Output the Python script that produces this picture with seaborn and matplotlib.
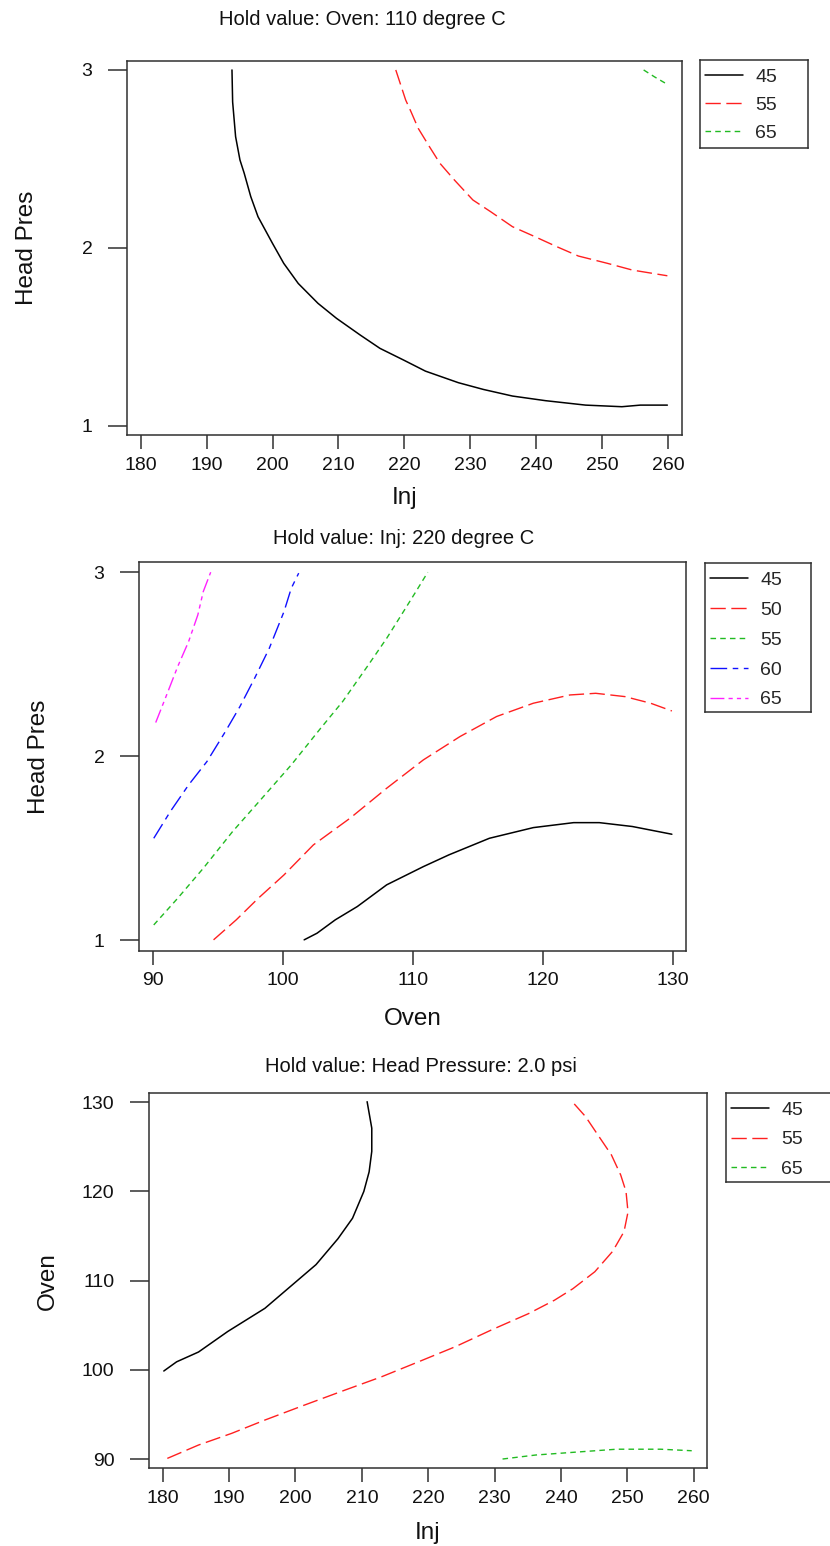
import matplotlib
matplotlib.use("Agg")
import matplotlib.pyplot as plt
import seaborn as sns
import pandas as pd

# ---------------- data ----------------
# Panel 1: hold Oven = 110 degree C  (x = Inj, y = Head Pres)
p1_title = "Hold value: Oven: 110 degree C"
p1_levels = ["45", "55", "65"]
p1_45_inj = [193.85, 193.95, 194.4, 195.06, 195.7, 196.7, 197.8, 200.0, 201.7, 203.9, 206.9, 209.7,
             213.3, 216.3, 219.9, 223.2, 228.2, 232.0, 236.4, 241.4, 247.5, 253.0, 255.8, 259.9]
p1_45_head = [3.0, 2.82, 2.625, 2.494, 2.42, 2.288, 2.175, 2.025, 1.913, 1.80, 1.688, 1.604,
              1.51, 1.435, 1.369, 1.307, 1.242, 1.204, 1.167, 1.141, 1.116, 1.107, 1.116, 1.116]
p1_55_inj = [218.7, 220.2, 221.0, 222.1, 223.8, 225.4, 227.6, 230.4, 233.1, 236.4, 239.8, 243.1,
             246.4, 250.8, 254.6, 259.9]
p1_55_head = [3.0, 2.831, 2.766, 2.672, 2.569, 2.475, 2.381, 2.269, 2.203, 2.119, 2.063, 2.007,
              1.954, 1.913, 1.875, 1.843]
p1_65_inj = [256.3, 258.0, 259.9]
p1_65_head = [3.0, 2.96, 2.919]
p1_xticks = [180, 190, 200, 210, 220, 230, 240, 250, 260]
p1_yticks = [1, 2, 3]

# Panel 2: hold Inj = 220 degree C  (x = Oven, y = Head Pres)
p2_title = "Hold value: Inj: 220 degree C"
p2_levels = ["45", "50", "55", "60", "65"]
p2_45_oven = [101.65, 102.64, 104.05, 105.74, 108.0, 110.82, 112.79, 115.9, 119.28, 122.38, 124.36, 126.9, 129.94]
p2_45_head = [1.002, 1.038, 1.111, 1.183, 1.301, 1.400, 1.464, 1.554, 1.612, 1.639, 1.639, 1.618, 1.576]
p2_50_oven = [94.68, 96.43, 98.12, 100.10, 102.36, 105.18, 108.0, 110.82, 113.64, 116.46, 119.28, 122.10,
              124.08, 126.33, 128.31, 129.94]
p2_50_head = [1.002, 1.111, 1.228, 1.355, 1.518, 1.663, 1.826, 1.980, 2.107, 2.216, 2.288, 2.333,
              2.342, 2.324, 2.288, 2.246]
p2_55_oven = [90.08, 91.92, 93.89, 96.15, 98.41, 100.66, 102.92, 104.61, 106.59, 108.0, 109.13, 110.25, 111.16]
p2_55_head = [1.083, 1.228, 1.391, 1.591, 1.772, 1.953, 2.152, 2.297, 2.496, 2.641, 2.768, 2.895, 3.0]
p2_60_oven = [90.08, 91.35, 92.76, 94.17, 95.59, 96.71, 97.84, 98.97, 100.10, 100.66, 101.23]
p2_60_head = [1.554, 1.699, 1.844, 1.971, 2.134, 2.270, 2.424, 2.587, 2.786, 2.913, 2.995]
p2_65_oven = [90.23, 91.07, 91.92, 92.76, 93.47, 93.89, 94.46]
p2_65_head = [2.183, 2.333, 2.487, 2.623, 2.768, 2.895, 3.0]
p2_xticks = [90, 100, 110, 120, 130]
p2_yticks = [1, 2, 3]

# Panel 3: hold Head Pressure = 2.0 psi  (x = Inj, y = Oven)
p3_title = "Hold value: Head Pressure: 2.0 psi"
p3_levels = ["45", "55", "65"]
p3_45_inj = [180.17, 182.1, 185.4, 189.8, 195.4, 199.8, 203.1, 206.4, 208.6, 210.3, 211.1, 211.5, 211.5, 210.8]
p3_45_oven = [99.87, 100.9, 102.0, 104.3, 106.9, 109.7, 111.8, 114.7, 117.0, 120.0, 122.2, 124.5, 127.1, 130.07]
p3_55_inj = [180.7, 185.4, 190.4, 195.4, 201.4, 207.5, 213.0, 218.6, 224.1, 229.6, 235.1, 239.0, 241.8,
             245.1, 247.8, 249.5, 250.1, 249.8, 249.0, 247.6, 245.6, 243.7, 241.7]
p3_55_oven = [90.07, 91.57, 92.88, 94.37, 96.06, 97.74, 99.23, 100.92, 102.6, 104.5, 106.3, 107.8, 109.1,
              111.0, 113.3, 115.5, 117.7, 120.0, 121.85, 124.1, 126.3, 128.4, 130.07]
p3_65_inj = [231.2, 236.2, 241.8, 248.4, 255.0, 259.7]
p3_65_oven = [90.0, 90.45, 90.75, 91.1, 91.1, 90.93]
p3_xticks = [180, 190, 200, 210, 220, 230, 240, 250, 260]
p3_yticks = [90, 100, 110, 120, 130]

# ---------------- styles ----------------
STYLE = {
    "45": dict(color="black", linestyle="-", lw=1.1),
    "50": dict(color="#FF2020", linestyle=(0, (11, 4)), lw=1.0),
    "55": dict(color="#FF2020", linestyle=(0, (11, 4)), lw=1.0),
    "60": dict(color="#1010FF", linestyle=(0, (12, 4, 4, 4)), lw=1.0),
    "65": dict(color="#FF20FF", linestyle=(0, (10, 3, 3, 3, 3, 3)), lw=1.0),
}
GREEN_SHORT = dict(color="#22BB22", linestyle=(0, (4, 3)), lw=1.0)

sns.set_theme(style="white")
plt.rcParams["font.family"] = ["Liberation Sans", "DejaVu Sans"]

W, H = 830, 1546
fig = plt.figure(figsize=(W / 100, H / 100), dpi=100)


def box(l, t, r, b):
    return [l / W, 1 - b / H, (r - l) / W, (b - t) / H]


SPINE = "#303030"


def make_panel(axbox, xlim, ylim, xticks, yticks, curves, xlabel, ylabel, title,
               title_px, xlab_base_px, ylab_x_px, legbox, legspacing):
    l, t, r, b = axbox
    ax = fig.add_axes(box(l, t, r, b))
    for lab, xs, ys, st in curves:
        df = pd.DataFrame({"x": xs, "y": ys})
        sns.lineplot(data=df, x="x", y="y", ax=ax, sort=False, estimator=None,
                     label=lab, legend=False, **st)
    ax.set_xlim(*xlim)
    ax.set_ylim(*ylim)
    ax.set_xticks(xticks)
    ax.set_yticks(yticks)
    ax.set_xticklabels([str(v) for v in xticks], fontsize=14)
    ax.set_yticklabels([str(v) for v in yticks], fontsize=14)
    ax.tick_params(axis="x", direction="out", length=10, width=1.1, color=SPINE, pad=5.5,
                   bottom=True, labelcolor="#111111")
    ax.tick_params(axis="y", direction="out", length=14, width=1.1, color=SPINE, pad=11,
                   left=True, labelcolor="#111111")
    for s in ax.spines.values():
        s.set_color(SPINE)
        s.set_linewidth(1.1)
        s.set_visible(True)
    ax.grid(False)
    # labels
    ax.set_xlabel(xlabel, fontsize=17.5, va="baseline", color="#111111")
    ax.xaxis.set_label_coords(0.5, -(xlab_base_px - b) / (b - t))
    ax.set_ylabel(ylabel, fontsize=17.5, va="center", ha="center", color="#111111")
    ax.yaxis.set_label_coords(-(l - ylab_x_px) / (r - l), 0.5)
    tx, ty = title_px
    ax.set_title(title, fontsize=14.5, x=(tx - l) / (r - l), y=(b - ty) / (b - t),
                 va="center", ha="center", color="#111111", pad=0)
    # legend in a framed box
    lax = fig.add_axes(box(*legbox))
    lax.set_xticks([])
    lax.set_yticks([])
    for s in lax.spines.values():
        s.set_color(SPINE)
        s.set_linewidth(1.1)
        s.set_visible(True)
    lines = ax.get_lines()
    lh = legbox[3] - legbox[1]
    lax.legend(handles=lines, labels=[c[0] for c in curves], loc="upper left",
               bbox_to_anchor=(0, 1 - 3.5 / lh), borderaxespad=0, frameon=False, fontsize=14,
               handlelength=1.95, handletextpad=0.65, labelspacing=legspacing, borderpad=0.25)
    return ax


make_panel((127.3, 60.7, 681.8, 435.0), (177.97, 262.09), (0.948, 3.052),
           p1_xticks, p1_yticks,
           [("45", p1_45_inj, p1_45_head, STYLE["45"]),
            ("55", p1_55_inj, p1_55_head, STYLE["55"]),
            ("65", p1_65_inj, p1_65_head, GREEN_SHORT)],
           "Inj", "Head Pres", p1_title, (362.7, 19.5), 504, 26.5,
           (700, 60, 808, 148), 0.54)

make_panel((139.2, 562.3, 686.3, 950.7), (88.96, 131.05), (0.943, 3.054),
           p2_xticks, p2_yticks,
           [("45", p2_45_oven, p2_45_head, STYLE["45"]),
            ("50", p2_50_oven, p2_50_head, STYLE["50"]),
            ("55", p2_55_oven, p2_55_head, GREEN_SHORT),
            ("60", p2_60_oven, p2_60_head, STYLE["60"]),
            ("65", p2_65_oven, p2_65_head, STYLE["65"])],
           "Oven", "Head Pres", p2_title, (403.5, 538), 1025, 39,
           (705, 563, 811, 712), 0.63)

make_panel((149.2, 1093.3, 706.6, 1468.3), (177.97, 261.94), (88.96, 131.01),
           p3_xticks, p3_yticks,
           [("45", p3_45_inj, p3_45_oven, STYLE["45"]),
            ("55", p3_55_inj, p3_55_oven, STYLE["55"]),
            ("65", p3_65_inj, p3_65_oven, GREEN_SHORT)],
           "Inj", "Oven", p3_title, (420.7, 1067), 1539, 47.5,
           (726, 1093, 836, 1182), 0.61)

fig.savefig("out.png", dpi=100, facecolor="white")
